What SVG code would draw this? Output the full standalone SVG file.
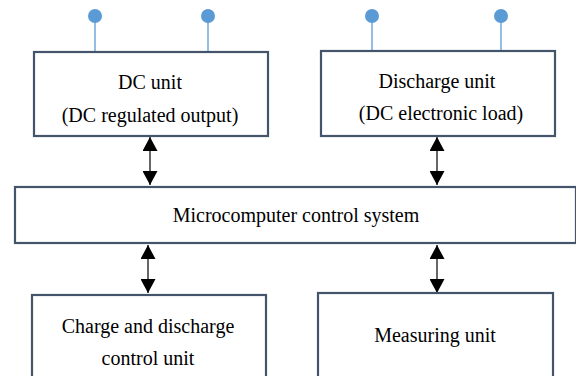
<svg xmlns="http://www.w3.org/2000/svg" width="576" height="376" viewBox="0 0 576 376">
  <style>
    .box { fill: #ffffff; stroke: #44546a; stroke-width: 2.2; }
    .lbl { font-family: "Liberation Serif", "Times New Roman", serif; font-size: 20px; fill: #000000; text-anchor: middle; }
    .pin { stroke: #5b9bd5; stroke-width: 1.3; }
    .dot { fill: #5b9bd5; }
    .link { stroke: #000000; stroke-width: 1.2; fill: none; marker-start: url(#head); marker-end: url(#head); }
  </style>
  <defs>
    <marker id="head" viewBox="0 0 14 15" refX="14" refY="7.5" markerWidth="14" markerHeight="15" markerUnits="userSpaceOnUse" orient="auto-start-reverse">
      <path d="M0,0 L14,7.5 L0,15 Z" fill="#000000"/>
    </marker>
  </defs>

  <rect width="576" height="376" fill="#ffffff"/>

  <!-- bidirectional links between units and the control system -->
  <g id="connectors">
    <line class="link" x1="150" y1="137" x2="150" y2="185"/>
    <line class="link" x1="437" y1="137" x2="437" y2="185"/>
    <line class="link" x1="148" y1="245" x2="148" y2="293"/>
    <line class="link" x1="437" y1="245" x2="437" y2="293"/>
  </g>

  <g id="dc-unit">
    <line class="pin" x1="95" y1="20" x2="95" y2="52"/>
    <line class="pin" x1="208" y1="20" x2="208" y2="52"/>
    <circle class="dot" cx="95" cy="16" r="7"/>
    <circle class="dot" cx="208" cy="16" r="7"/>
    <rect class="box" x="34" y="52" width="234" height="84"/>
    <text class="lbl" x="150" y="89">DC unit</text>
    <text class="lbl" x="150" y="122">(DC regulated output)</text>
  </g>

  <g id="discharge-unit">
    <line class="pin" x1="372" y1="20" x2="372" y2="51"/>
    <line class="pin" x1="501" y1="20" x2="501" y2="51"/>
    <circle class="dot" cx="372" cy="16" r="7"/>
    <circle class="dot" cx="501" cy="16" r="7"/>
    <rect class="box" x="321" y="51" width="234" height="85"/>
    <text class="lbl" x="437" y="88">Discharge unit</text>
    <text class="lbl" x="441" y="120">(DC electronic load)</text>
  </g>

  <g id="control-system">
    <rect class="box" x="15" y="187" width="561" height="56"/>
    <text class="lbl" x="296" y="222">Microcomputer control system</text>
  </g>

  <g id="charge-control-unit">
    <rect class="box" x="32" y="295" width="234" height="90"/>
    <text class="lbl" x="148" y="333">Charge and discharge</text>
    <text class="lbl" x="148" y="365">control unit</text>
  </g>

  <g id="measuring-unit">
    <rect class="box" x="318" y="293" width="235" height="92"/>
    <text class="lbl" x="435" y="342">Measuring unit</text>
  </g>
</svg>
